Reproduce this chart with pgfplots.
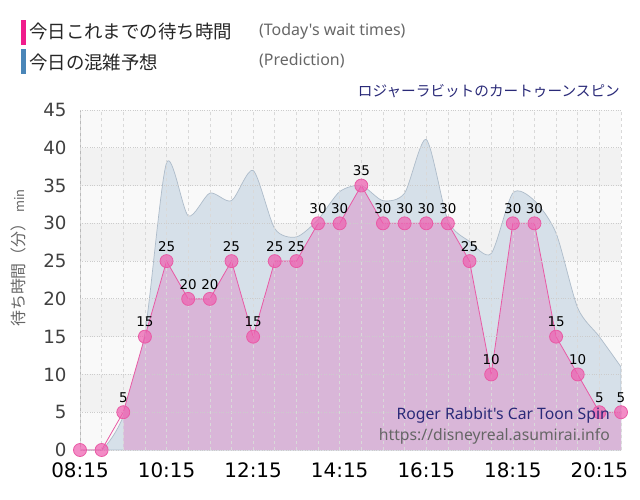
\documentclass[border=0pt]{standalone}
\usepackage{pgfplots}
\pgfplotsset{compat=1.18}
\usepackage{fontspec}
\setmainfont{DejaVu Sans}
\newfontfamily\notosans{Noto Sans}
\newfontfamily\cjk{Noto Sans CJK JP}

\definecolor{pinkbar}{HTML}{F01C8C}
\definecolor{bluebar}{HTML}{4A86B8}
\definecolor{navy}{HTML}{2A2A78}
\definecolor{pinkfill}{HTML}{D9B6D8}
\definecolor{pinkline}{HTML}{E95AA5}
\definecolor{pinkmark}{HTML}{EE5FB0}
\definecolor{predfill}{HTML}{D6E0E9}
\definecolor{prededge}{HTML}{AEBCCA}
\definecolor{banddark}{HTML}{F2F2F2}
\definecolor{bandlight}{HTML}{F9F9F9}
\definecolor{txtgray}{HTML}{666666}

\begin{document}
\begin{tikzpicture}
\useasboundingbox (0,0) rectangle (640bp,-500bp);

% legend and titles
\fill[pinkbar] (20.5bp,-20bp) rectangle (25.5bp,-45bp);
\fill[bluebar] (20.5bp,-49bp) rectangle (25.5bp,-74bp);
\node[anchor=west, inner sep=0pt, text=black!85] at (29bp,-32bp) {\cjk\fontsize{18.5}{20}\selectfont 今日これまでの待ち時間};
\node[anchor=west, inner sep=0pt, text=black!85] at (29bp,-62bp) {\cjk\fontsize{18.5}{20}\selectfont 今日の混雑予想};
\node[anchor=west, inner sep=0pt, text=txtgray] at (259bp,-31bp) {\notosans\fontsize{16}{17}\selectfont (Today's wait times)};
\node[anchor=west, inner sep=0pt, text=txtgray] at (259bp,-61bp) {\notosans\fontsize{16}{17}\selectfont (Prediction)};
\node[anchor=east, inner sep=0pt, text=navy] at (620bp,-91bp) {\cjk\fontsize{14.7}{16}\selectfont ロジャーラビットのカートゥーンスピン};
\node[rotate=90, inner sep=0pt, text=txtgray] at (18bp,-258bp) {\cjk\fontsize{16}{18}\selectfont 待ち時間（分）\,{\fontsize{13}{14}\selectfont min}};

\begin{axis}[
    at={(80bp,-450bp)}, anchor=south west,
    scale only axis, width=541bp, height=340bp,
    xmin=8.25, xmax=20.75, ymin=0, ymax=45,
    xtick={8.25,10.25,...,20.25},
    xticklabels={08:15,10:15,12:15,14:15,16:15,18:15,20:15},
    minor xtick={8.75,9.25,...,20.75},
    ytick={0,5,...,45},
    axis line style={draw=none},
    major tick length=0pt, minor tick length=0pt,
    xmajorgrids, xminorgrids, ymajorgrids,
    major x grid style={gray!30, dashed, line width=0.6bp},
    minor x grid style={gray!30, dashed, line width=0.6bp},
    major y grid style={gray!40, dotted, line width=0.8bp},
    axis on top,
    /pgf/number format/assume math mode=true,
    xticklabel style={font=\fontsize{20}{20}\selectfont, text=black, yshift=-9bp},
    yticklabel style={font=\fontsize{18.3}{18}\selectfont, text=black!75, xshift=-10bp},
]
% background bands
\fill[bandlight] (axis cs:8.25,0) rectangle (axis cs:20.75,45);
\fill[banddark] (axis cs:8.25,5) rectangle (axis cs:20.75,10);
\fill[banddark] (axis cs:8.25,15) rectangle (axis cs:20.75,20);
\fill[banddark] (axis cs:8.25,25) rectangle (axis cs:20.75,30);
\fill[banddark] (axis cs:8.25,35) rectangle (axis cs:20.75,40);

% prediction
\addplot[smooth, tension=0.45, fill=predfill, draw=prededge, line width=0.7bp] coordinates {
 (8.25,0) (8.75,0) (9.25,4.5) (9.75,15.5) (10.25,38) (10.75,31) (11.25,34)
 (11.75,33) (12.25,37) (12.75,29.3) (13.25,28.2) (13.75,30.5) (14.25,34.2)
 (14.75,35) (15.25,33) (15.75,34) (16.25,41.1) (16.75,30.4) (17.25,27.6)
 (17.75,26) (18.25,34) (18.75,33) (19.25,28.7) (19.75,18.8) (20.25,15) (20.75,11)
} \closedcycle;

% today's wait times: area
\addplot[fill=pinkfill, draw=none] coordinates {
 (9.25,5) (9.75,15) (10.25,25) (10.75,20) (11.25,20) (11.75,25) (12.25,15)
 (12.75,25) (13.25,25) (13.75,30) (14.25,30) (14.75,35) (15.25,30) (15.75,30)
 (16.25,30) (16.75,30) (17.25,25) (17.75,10) (18.25,30) (18.75,30) (19.25,15)
 (19.75,10) (20.25,5) (20.75,5)
} \closedcycle;

% left axis line
\draw[gray!55, line width=0.8bp] (axis cs:8.25,0) -- (axis cs:8.25,45);

% line and markers
\addplot[pinkline, line width=0.8bp, mark=*, mark size=6.5bp,
  mark options={draw=none, fill=pinkmark, fill opacity=0.72}] coordinates {
 (8.25,0) (8.75,0) (9.25,5) (9.75,15) (10.25,25) (10.75,20) (11.25,20)
 (11.75,25) (12.25,15) (12.75,25) (13.25,25) (13.75,30) (14.25,30) (14.75,35)
 (15.25,30) (15.75,30) (16.25,30) (16.75,30) (17.25,25) (17.75,10) (18.25,30)
 (18.75,30) (19.25,15) (19.75,10) (20.25,5) (20.75,5)
};

% value labels
\addplot[draw=none, mark=none, nodes near coords,
  every node near coord/.append style={font=\fontsize{13.5}{14}\selectfont, text=black, anchor=south, yshift=6bp}] coordinates {
 (9.25,5) (9.75,15) (10.25,25) (10.75,20) (11.25,20) (11.75,25) (12.25,15)
 (12.75,25) (13.25,25) (13.75,30) (14.25,30) (14.75,35) (15.25,30) (15.75,30)
 (16.25,30) (16.75,30) (17.25,25) (17.75,10) (18.25,30) (18.75,30) (19.25,15)
 (19.75,10) (20.25,5) (20.75,5)
};
\end{axis}

\node[anchor=east, inner sep=0pt, text=navy] at (610bp,-415bp) {\notosans\fontsize{15.8}{17}\selectfont Roger Rabbit's Car Toon Spin};
\node[anchor=east, inner sep=0pt, text=txtgray] at (610bp,-436bp) {\notosans\fontsize{15.8}{17}\selectfont https://disneyreal.asumirai.info};
\end{tikzpicture}
\end{document}
